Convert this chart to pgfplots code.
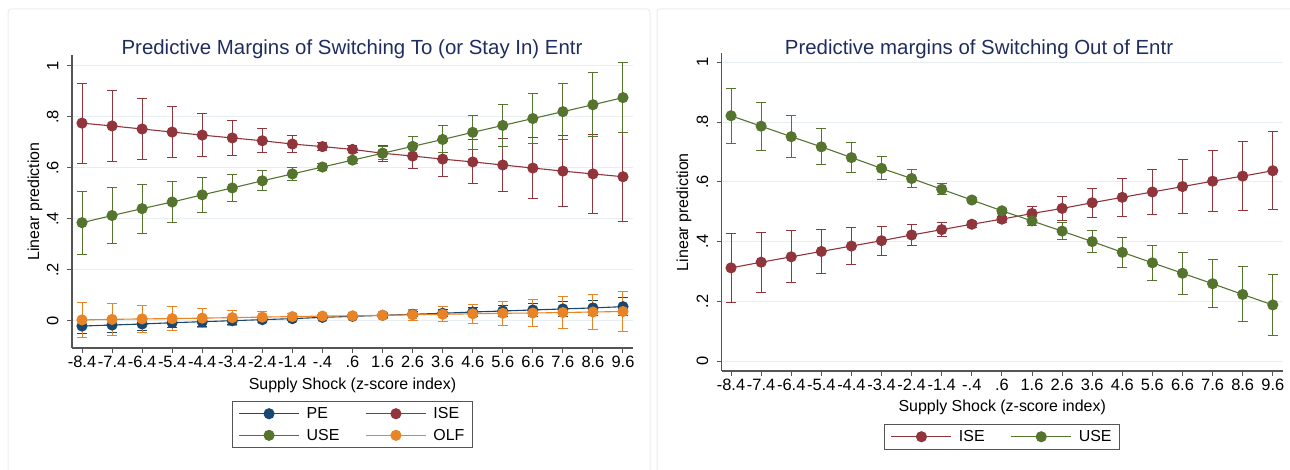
\documentclass[border=0pt]{standalone}
\usepackage{fontspec}
\setmainfont{Liberation Sans}
\usepackage{pgfplots}
\pgfplotsset{compat=1.18}
\usepackage{pgfplotstable}

\definecolor{cPE}{RGB}{26,71,111}
\definecolor{cISE}{RGB}{144,53,59}
\definecolor{cUSE}{RGB}{85,117,47}
\definecolor{cOLF}{RGB}{232,131,38}
\definecolor{ttl}{RGB}{32,45,95}
\definecolor{gridc}{RGB}{230,238,241}
\definecolor{axc}{RGB}{85,85,85}
\definecolor{panel}{RGB}{236,236,236}

\pgfplotstableread{
x y e
-8.4 -0.020 0.031
-7.4 -0.016 0.028
-6.4 -0.012 0.024
-5.4 -0.007 0.020
-4.4 -0.003 0.017
-3.4 0.001 0.013
-2.4 0.005 0.010
-1.4 0.009 0.007
-0.4 0.014 0.004
0.6 0.018 0.004
1.6 0.022 0.007
2.6 0.026 0.010
3.6 0.030 0.013
4.6 0.035 0.017
5.6 0.039 0.020
6.6 0.043 0.024
7.6 0.047 0.028
8.6 0.051 0.031
9.6 0.056 0.035
}\LPE

\pgfplotstableread{
x y e
-8.4 0.775 0.157
-7.4 0.764 0.138
-6.4 0.752 0.120
-5.4 0.740 0.101
-4.4 0.728 0.084
-3.4 0.717 0.067
-2.4 0.706 0.048
-1.4 0.693 0.032
-0.4 0.683 0.016
0.6 0.672 0.014
1.6 0.657 0.032
2.6 0.646 0.050
3.6 0.634 0.070
4.6 0.623 0.086
5.6 0.611 0.103
6.6 0.599 0.120
7.6 0.587 0.138
8.6 0.576 0.156
9.6 0.565 0.175
}\LISE

\pgfplotstableread{
x y e
-8.4 0.385 0.124
-7.4 0.413 0.110
-6.4 0.440 0.096
-5.4 0.466 0.082
-4.4 0.494 0.068
-3.4 0.521 0.053
-2.4 0.549 0.039
-1.4 0.576 0.026
-0.4 0.603 0.012
0.6 0.630 0.012
1.6 0.657 0.025
2.6 0.684 0.040
3.6 0.711 0.053
4.6 0.739 0.067
5.6 0.766 0.082
6.6 0.793 0.097
7.6 0.820 0.111
8.6 0.847 0.125
9.6 0.875 0.138
}\LUSE

\pgfplotstableread{
x y e
-8.4 0.004 0.070
-7.4 0.006 0.062
-6.4 0.008 0.054
-5.4 0.009 0.046
-4.4 0.011 0.037
-3.4 0.013 0.029
-2.4 0.015 0.021
-1.4 0.017 0.013
-0.4 0.019 0.006
0.6 0.020 0.006
1.6 0.022 0.013
2.6 0.024 0.021
3.6 0.026 0.029
4.6 0.028 0.037
5.6 0.030 0.046
6.6 0.031 0.054
7.6 0.033 0.062
8.6 0.035 0.070
9.6 0.037 0.079
}\LOLF

\pgfplotstableread{
x y e
-8.4 0.312 0.115
-7.4 0.331 0.100
-6.4 0.349 0.087
-5.4 0.367 0.074
-4.4 0.385 0.061
-3.4 0.403 0.048
-2.4 0.422 0.036
-1.4 0.440 0.024
-0.4 0.458 0.010
0.6 0.475 0.010
1.6 0.494 0.023
2.6 0.511 0.039
3.6 0.530 0.048
4.6 0.548 0.063
5.6 0.566 0.075
6.6 0.584 0.090
7.6 0.602 0.102
8.6 0.619 0.116
9.6 0.637 0.130
}\RISE

\pgfplotstableread{
x y e
-8.4 0.821 0.092
-7.4 0.786 0.080
-6.4 0.751 0.070
-5.4 0.717 0.060
-4.4 0.681 0.050
-3.4 0.645 0.038
-2.4 0.611 0.029
-1.4 0.575 0.018
-0.4 0.539 0.009
0.6 0.503 0.009
1.6 0.469 0.014
2.6 0.435 0.029
3.6 0.400 0.036
4.6 0.364 0.050
5.6 0.329 0.058
6.6 0.294 0.071
7.6 0.259 0.080
8.6 0.223 0.092
9.6 0.188 0.101
}\RUSE

\pgfplotsset{
  ser/.style={color=#1, line width=1.1bp, mark=*, mark size=5bp,
    mark options={solid, fill=#1, draw=#1},
    error bars/.cd, y dir=both, y explicit,
    error bar style={line width=1bp, color=#1},
    error mark options={rotate=90, mark size=5bp, line width=1bp, color=#1}},
  base/.style={
    scale only axis,
    width=561bp,
    xmin=-8.733, xmax=9.933,
    xtick={-8.4,-7.4,-6.4,-5.4,-4.4,-3.4,-2.4,-1.4,-0.4,0.6,1.6,2.6,3.6,4.6,5.6,6.6,7.6,8.6,9.6},
    xticklabels={-8.4,-7.4,-6.4,-5.4,-4.4,-3.4,-2.4,-1.4,-.4,.6,1.6,2.6,3.6,4.6,5.6,6.6,7.6,8.6,9.6},
    ytick={0,0.2,0.4,0.6,0.8,1},
    yticklabels={0,.2,.4,.6,.8,1},
    axis x line*=bottom, axis y line*=left,
    axis line style={axc, line width=1.2bp},
    tick style={axc, line width=1bp},
    tick align=outside, major tick length=5bp,
    ymajorgrids, grid style={gridc, line width=1bp},
    tick label style={font=\fontsize{16.5}{18}\selectfont, text=black},
    yticklabel style={rotate=90, anchor=south, yshift=5bp},
    label style={font=\fontsize{16}{18}\selectfont},
    xlabel={Supply Shock (z-score index)},
    ylabel={Linear prediction},
    legend columns=2,
    legend cell align=left,
    legend style={draw=axc, line width=0.8bp, fill=white,
      font=\fontsize{16}{18}\selectfont,
      /tikz/every odd column/.append style={column sep=5bp},
      /tikz/every even column/.append style={column sep=24bp},
      row sep=5bp, inner xsep=6bp, inner ysep=4bp},
    legend image code/.code={
      \draw[##1, line width=1.1bp] (0bp,0bp) -- (60bp,0bp);
      \draw[##1, only marks] plot coordinates {(30bp,0bp)};
    },
    clip=false,
  },
}

\begin{document}
\begin{tikzpicture}[x=1bp,y=1bp]
\useasboundingbox (0,0) rectangle (1290,470);
\draw[panel, line width=1bp, rounded corners=3bp] (8,-6) rectangle (650,461);
\draw[panel, line width=1bp, rounded corners=3bp] (657,-6) rectangle (1300,461);

\begin{axis}[base, at={(72bp,122bp)}, anchor=south west,
  height=293bp, ymin=-0.106, ymax=1.042,
  xlabel style={at={(axis description cs:0.5,-0.126)}, anchor=center},
  ylabel style={at={(axis description cs:-0.066,0.5)}, anchor=center},
  legend style={at={(axis description cs:0.5,-0.181)}, anchor=north},
]
\addplot+[ser=cPE] table[x=x, y=y, y error=e] {\LPE};
\addlegendentry{PE}
\addplot+[ser=cISE] table[x=x, y=y, y error=e] {\LISE};
\addlegendentry{ISE}
\addplot+[ser=cUSE] table[x=x, y=y, y error=e] {\LUSE};
\addlegendentry{USE}
\addplot+[ser=cOLF] table[x=x, y=y, y error=e] {\LOLF};
\addlegendentry{OLF}
\end{axis}

\begin{axis}[base, at={(721.7bp,99bp)}, anchor=south west,
  height=317.7bp, ymin=-0.033, ymax=1.03,
  xmin=-8.71, xmax=9.93,
  xlabel style={at={(axis description cs:0.5,-0.113)}, anchor=center},
  ylabel style={at={(axis description cs:-0.067,0.5)}, anchor=center},
  legend style={at={(axis description cs:0.5,-0.167)}, anchor=north},
]
\addplot+[ser=cISE] table[x=x, y=y, y error=e] {\RISE};
\addlegendentry{ISE}
\addplot+[ser=cUSE] table[x=x, y=y, y error=e] {\RUSE};
\addlegendentry{USE}
\end{axis}

\node[anchor=base, text=ttl, font=\fontsize{20.5}{24}\selectfont] at (352,415) {Predictive Margins of Switching To (or Stay In) Entr};
\node[anchor=base, text=ttl, font=\fontsize{20.5}{24}\selectfont] at (979,415) {Predictive margins of Switching Out of Entr};
\end{tikzpicture}
\end{document}
